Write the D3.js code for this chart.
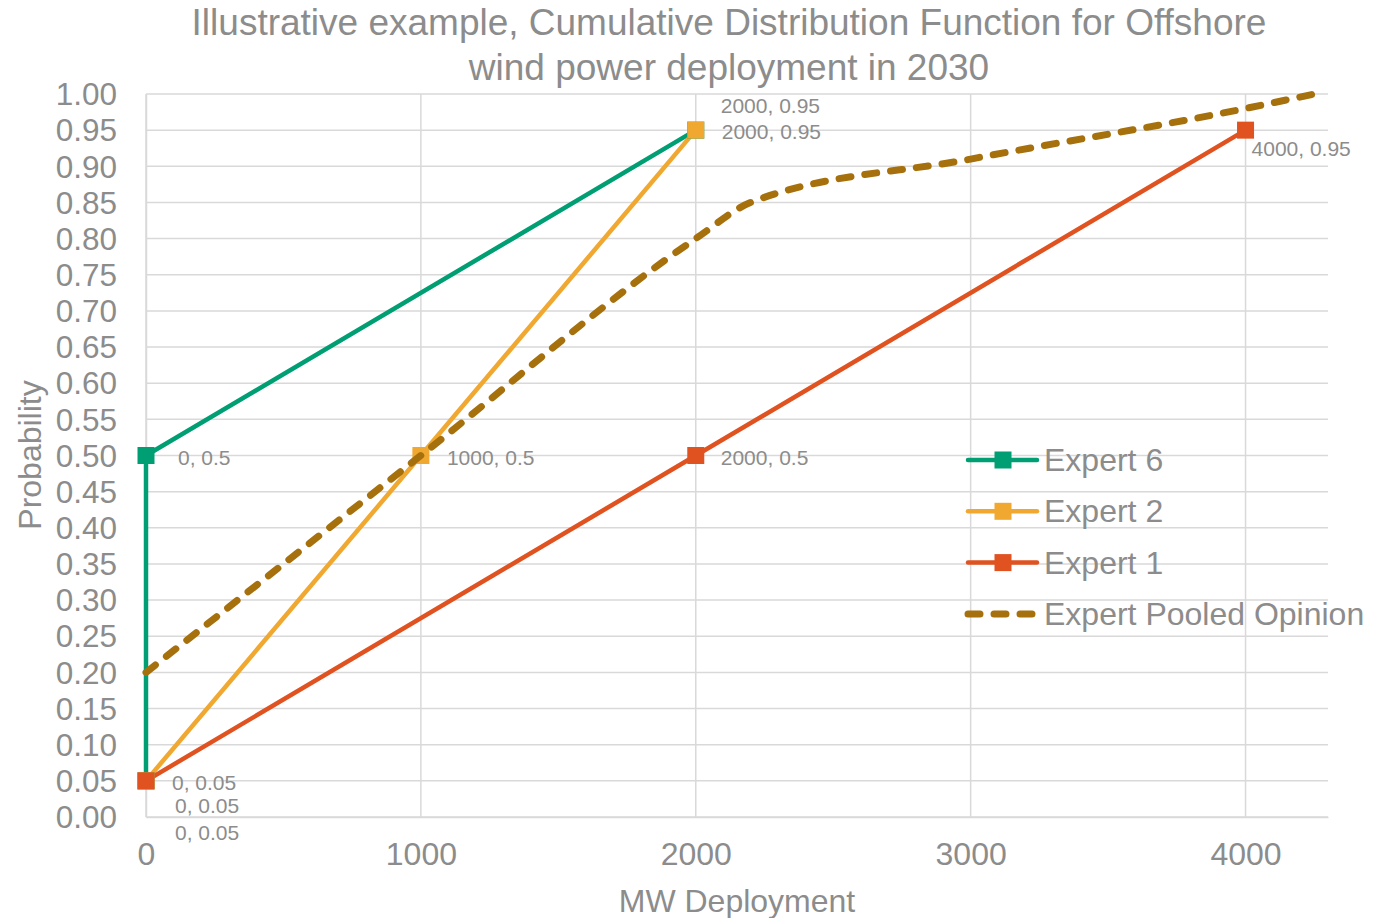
<!DOCTYPE html>
<html lang="en">
<head>
<meta charset="UTF-8">
<title>Offshore wind CDF</title>
<style>
  body { margin: 0; background: #fff; }
  svg { display: block; font-family: "Liberation Sans", Arial, sans-serif; }
  .grid line { stroke: #d9d9d9; stroke-width: 1.5; }
  .tick text { fill: #8c8c8c; }
</style>
</head>
<body>
<svg id="chart" width="1391" height="918"></svg>
<script src="https://cdn.jsdelivr.net/npm/d3@7"></script>
<script>
// data
const seriesNames = ["Expert 6", "Expert 2", "Expert 1", "Expert Pooled Opinion"];
const expert6 = [[0, 0.05], [0, 0.5], [2000, 0.95]];
const expert2 = [[0, 0.05], [1000, 0.5], [2000, 0.95]];
const expert1 = [[0, 0.05], [2000, 0.5], [4000, 0.95]];
const pooled = [[0, 0.20], [1000, 0.50], [2000, 0.80], [2200, 0.85], [3000, 0.91], [4000, 0.98], [4250, 1.00]];
const xTicks = [0, 1000, 2000, 3000, 4000];
const yTicks = d3.range(0, 21).map(i => i * 0.05);

const colors = ["#009e73", "#f0a830", "#e05321", "#a6700c"];
const textGray = "#8c8c8c";

const svg = d3.select("#chart");
const m = { left: 146, right: 1328, top: 94, bottom: 817 };

const x = d3.scaleLinear().domain([0, 4300]).range([m.left, m.right]);
const y = d3.scaleLinear().domain([0, 1]).range([m.bottom, m.top]);

// gridlines
const g = svg.append("g").attr("class", "grid");
g.selectAll(".hg").data(yTicks).join("line")
  .attr("x1", m.left).attr("x2", m.right)
  .attr("y1", d => y(d)).attr("y2", d => y(d));
g.selectAll(".vg").data(xTicks).join("line")
  .attr("y1", m.top).attr("y2", m.bottom)
  .attr("x1", d => x(d)).attr("x2", d => x(d));

// axes
const xAxis = svg.append("g").attr("transform", `translate(0,${m.bottom})`)
  .call(d3.axisBottom(x).tickValues(xTicks).tickSize(0).tickPadding(25).tickFormat(d3.format("d")));
xAxis.select(".domain").attr("stroke", "#d9d9d9").attr("stroke-width", 1.5);
xAxis.selectAll("text").attr("font-size", 32);

const yAxis = svg.append("g").attr("transform", `translate(${m.left},0)`)
  .call(d3.axisLeft(y).tickValues(yTicks).tickSize(0).tickPadding(29).tickFormat(d3.format(".2f")));
yAxis.select(".domain").attr("stroke", "#d9d9d9").attr("stroke-width", 1.5);
yAxis.selectAll("text").attr("font-size", 31.5).attr("dy", "0.34em");

// titles
const title = svg.append("text").attr("text-anchor", "middle").attr("fill", textGray)
  .attr("font-size", 37);
title.append("tspan").attr("x", 729).attr("y", 35).text("Illustrative example, Cumulative Distribution Function for Offshore");
title.append("tspan").attr("x", 729).attr("y", 80).text("wind power deployment in 2030");

svg.append("text").attr("text-anchor", "middle").attr("fill", textGray).attr("font-size", 32)
  .attr("x", 737).attr("y", 912).text("MW Deployment");
svg.append("text").attr("text-anchor", "middle").attr("fill", textGray).attr("font-size", 32)
  .attr("transform", `translate(41,455) rotate(-90)`).text("Probability");

// lines
const line = d3.line().x(d => x(d[0])).y(d => y(d[1]));
const smooth = d3.line().x(d => x(d[0])).y(d => y(d[1])).curve(d3.curveMonotoneX);
const experts = [expert6, expert2, expert1];

experts.forEach((s, i) => {
  svg.append("path").datum(s).attr("d", line)
    .attr("fill", "none").attr("stroke", colors[i]).attr("stroke-width", 4.5)
    .attr("stroke-linejoin", "round");
});
experts.forEach((s, i) => {
  svg.append("g").selectAll("rect").data(s).join("rect")
    .attr("x", d => x(d[0]) - 8.5).attr("y", d => y(d[1]) - 8.5)
    .attr("width", 17).attr("height", 17).attr("fill", colors[i]);
});

svg.append("path").datum(pooled).attr("d", smooth)
  .attr("fill", "none").attr("stroke", colors[3]).attr("stroke-width", 7)
  .attr("stroke-dasharray", "12,14").attr("stroke-linecap", "round");

// data labels
const fmt = d => `${d[0]}, ${d[1]}`;
const labelOffsets = [
  [[26, 9], [32, 9], [26, 9]],
  [[29, 32], [26, 9], [25, -17]],
  [[29, 59], [25, 9], [6, 26]]
];
experts.forEach((s, i) => {
  svg.append("g").selectAll("text").data(s).join("text")
    .attr("x", (d, j) => x(d[0]) + labelOffsets[i][j][0])
    .attr("y", (d, j) => y(d[1]) + labelOffsets[i][j][1])
    .attr("font-size", 21).attr("fill", textGray).text(fmt);
});

// legend
const leg = svg.append("g");
seriesNames.forEach((n, i) => {
  const ly = 460 + i * 51.3;
  const l = leg.append("line").attr("x1", 968).attr("x2", 1037).attr("y1", ly).attr("y2", ly)
    .attr("stroke", colors[i]).attr("stroke-width", i === 3 ? 7 : 4.5).attr("stroke-linecap", "round");
  if (i === 3) l.attr("stroke-dasharray", "12,14");
  else leg.append("rect").attr("x", 994.5).attr("y", ly - 8.5).attr("width", 17).attr("height", 17).attr("fill", colors[i]);
  leg.append("text").attr("x", 1044).attr("y", ly + 11).attr("font-size", 32).attr("fill", textGray).text(n);
});
</script>
</body>
</html>
